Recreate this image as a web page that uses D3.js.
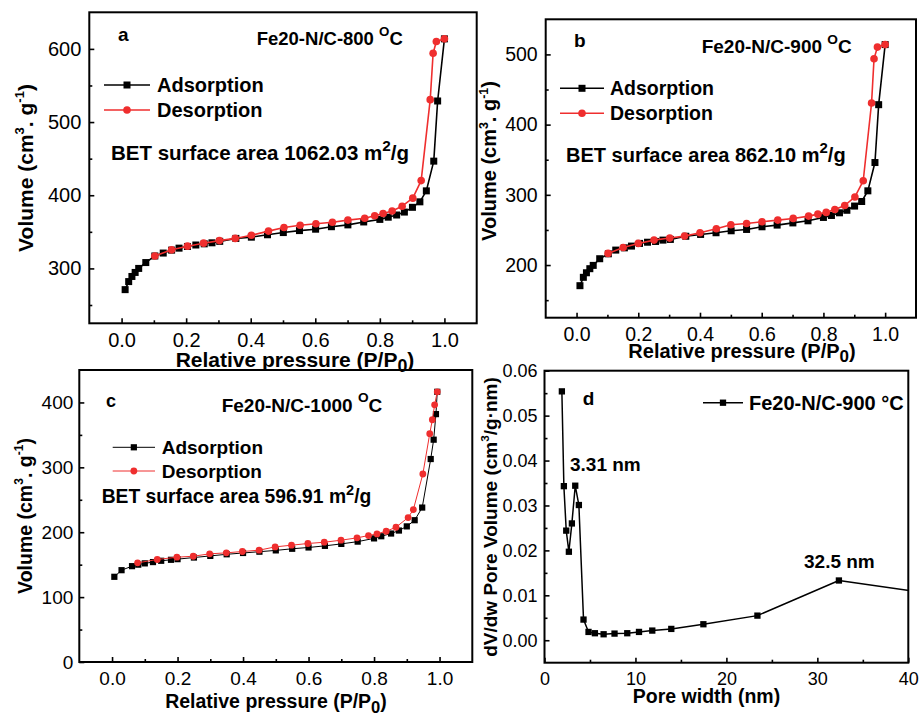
<!DOCTYPE html>
<html><head><meta charset="utf-8">
<script src="https://cdn.jsdelivr.net/npm/d3@7"></script>
<style>body{margin:0;background:#fff} svg{display:block}</style>
</head><body>
<script>
// ---------------- DATA ----------------
// Panel a: Fe20-N/C-800 °C
const aAdsP = [0.011,0.022,0.032,0.042,0.053,0.075,0.103,0.129,0.155,0.178,0.204,0.230,0.256,0.280,0.304,0.354,0.402,0.452,0.501,0.551,0.601,0.650,0.701,0.750,0.800,0.826,0.852,0.876,0.901,0.924,0.944,0.967,0.979,1.000];
const aAdsV = [271,282,289,294.5,300,308,317,321,325,327.7,330,332,333.6,335,337,341,342.7,346,349,351.7,353.6,357,359.5,363.5,367,370,373,377,383.5,391,406,446.6,528.8,613.7];
const aDesP = [1.000,0.975,0.965,0.956,0.928,0.902,0.869,0.838,0.810,0.784,0.753,0.701,0.653,0.602,0.553,0.503,0.455,0.402,0.352,0.303,0.254,0.204,0.155,0.103];
const aDesV = [613.7,610,594,530.6,420,396,385,378.5,375,372,368.5,366,363,361,359,356,351,345.4,341,338,334.5,330.4,325.4,317];

// Panel b: Fe20-N/C-900 °C
const bAdsP = [0.011,0.022,0.032,0.043,0.054,0.075,0.103,0.127,0.155,0.178,0.204,0.230,0.256,0.280,0.304,0.354,0.402,0.452,0.501,0.551,0.601,0.650,0.701,0.750,0.800,0.826,0.852,0.876,0.901,0.924,0.944,0.967,0.979,1.000];
const bAdsV = [170.6,182.5,189,194.8,199.5,209,216,221.3,224.5,227,230.8,232.5,233.6,235.5,236.5,241,243.6,246,248.8,250.7,254.5,256.9,260,263,267.8,270.6,274.4,278,284,290.5,305.7,346,428.4,514];
const bDesP = [1.000,0.975,0.964,0.956,0.929,0.902,0.869,0.837,0.809,0.782,0.752,0.702,0.652,0.601,0.551,0.500,0.453,0.400,0.350,0.302,0.251,0.200,0.151,0.102];
const bDesV = [514,510.4,493.8,430.8,320,297,284.8,279,275,272.5,269.7,266.4,264,261.6,259.2,257.3,251.7,246,241.2,238.4,235.5,230.8,225,216.6];

// Panel c: Fe20-N/C-1000 °C
const cAdsP = [0.007,0.029,0.061,0.080,0.100,0.125,0.150,0.180,0.200,0.250,0.300,0.350,0.400,0.450,0.500,0.550,0.600,0.650,0.700,0.750,0.800,0.822,0.852,0.876,0.900,0.924,0.947,0.973,0.982,0.989,0.993];
const cAdsV = [131.3,141.5,147.7,150,152,154,156,157.5,158.5,161,163.5,166,168,170,172,174.5,176.5,179,182,185.5,190.5,193.8,198,202.6,209,218.5,238,312.8,342.6,382,416.4];
const cDesP = [0.993,0.985,0.978,0.970,0.949,0.920,0.904,0.867,0.837,0.809,0.783,0.748,0.699,0.648,0.598,0.548,0.498,0.449,0.398,0.349,0.298,0.248,0.198,0.138,0.078];
const cDesV = [416.4,396.4,373.3,351.8,289.7,234.9,222.6,207.7,201.5,197.4,194.9,191.3,187.7,184.6,182.6,180,177.4,172.3,170.3,168.2,166.7,163,161.5,158,152.8];

// Panel d: pore size distribution, Fe20-N/C-900 °C
const dWidth = [1.91,2.13,2.39,2.68,3.01,3.38,3.78,4.29,4.84,5.54,6.5,7.7,9.1,10.39,11.85,13.94,17.47,23.41,32.37,44.5];
const dVol   = [0.0554,0.0343,0.0244,0.0197,0.0260,0.0344,0.0301,0.0046,0.00185,0.00156,0.00133,0.00148,0.00156,0.00185,0.00215,0.00252,0.00356,0.00548,0.0133,0.0098];

// Tick values
const pressureTicks = [0,0.2,0.4,0.6,0.8,1.0];
const pressureMinor = [0.1,0.3,0.5,0.7,0.9];
const aVolTicks = [300,400,500,600], aVolMinor = [250,350,450,550];
const bVolTicks = [200,300,400,500], bVolMinor = [150,250,350,450];
const cVolTicks = [0,100,200,300,400], cVolMinor = [50,150,250,350];
const dWidthTicks = [0,10,20,30,40], dWidthMinor = [5,15,25,35];
const dVolTicks = [0,0.01,0.02,0.03,0.04,0.05,0.06], dVolMinor = [0.005,0.015,0.025,0.035,0.045,0.055];

// ---------------- DRAWING ----------------
const FONT = "'Liberation Sans', Arial, Helvetica, sans-serif";
const RED = '#ef2e2e';
const svg = d3.select('body').append('svg').attr('width', 921).attr('height', 716)
  .style('font-family', FONT);

function rich(sel, parts, fs) {
  // parts: strings or {t, sup} / {t, sub}
  let shift = 0;
  parts.forEach(p => {
    const o = typeof p === 'string' ? {t: p} : p;
    const ts = sel.append('tspan').text(o.t);
    let target = 0, size = fs;
    if (o.sup) { target = -fs * (o.raise || 0.42); size = fs * (o.scale || 0.62); }
    if (o.sub) { target = fs * 0.22; size = fs * 0.85; }
    ts.attr('dy', target - shift).attr('font-size', size);
    shift = target;
  });
  return sel;
}

function marker(g, type, cx, cy, size, color) {
  if (type === 'square') {
    g.append('rect').attr('x', cx - size / 2).attr('y', cy - size / 2)
      .attr('width', size).attr('height', size).attr('fill', color);
  } else {
    g.append('circle').attr('cx', cx).attr('cy', cy).attr('r', size / 2).attr('fill', color);
  }
}

function panel(cfg) {
  const x = d3.scaleLinear().domain(cfg.xDomain).range([cfg.left, cfg.right]);
  const y = d3.scaleLinear().domain(cfg.yDomain).range([cfg.bottom, cfg.top]);
  const g = svg.append('g');
  const clipId = 'clip-' + cfg.id;
  svg.append('clipPath').attr('id', clipId).append('rect')
    .attr('x', cfg.left).attr('y', cfg.top)
    .attr('width', cfg.right - cfg.left).attr('height', cfg.bottom - cfg.top);

  // series
  const plot = g.append('g').attr('clip-path', `url(#${clipId})`);
  cfg.series.forEach(s => {
    const pts = s.x.map((v, i) => [v, s.y[i]]);
    plot.append('path').datum(pts)
      .attr('d', d3.line().x(d => x(d[0])).y(d => y(d[1])))
      .attr('fill', 'none').attr('stroke', s.color).attr('stroke-width', cfg.lw)
      .attr('stroke-linejoin', 'round');
    pts.forEach(d => marker(plot, s.shape, x(d[0]), y(d[1]), s.shape === 'square' ? cfg.sq : cfg.cr, s.color));
  });

  // axes (inward ticks)
  const axStyle = a => {
    a.select('.domain').remove();
    a.selectAll('line').attr('stroke', '#000').attr('stroke-width', 1.6);
    a.selectAll('text').attr('font-family', FONT).attr('font-size', cfg.tickFs).attr('fill', '#000');
  };
  g.append('g').attr('transform', `translate(0,${cfg.bottom})`)
    .call(d3.axisBottom(x).tickValues(cfg.xTicks).tickSizeInner(-5).tickSizeOuter(0)
      .tickPadding(cfg.xPad).tickFormat(cfg.xFmt)).call(axStyle);
  g.append('g').attr('transform', `translate(0,${cfg.bottom})`)
    .call(d3.axisBottom(x).tickValues(cfg.xMinor).tickSizeInner(-3).tickSizeOuter(0).tickFormat('')).call(axStyle);
  g.append('g').attr('transform', `translate(${cfg.left},0)`)
    .call(d3.axisLeft(y).tickValues(cfg.yTicks).tickSizeInner(-5).tickSizeOuter(0)
      .tickPadding(cfg.yPad).tickFormat(cfg.yFmt)).call(axStyle);
  g.append('g').attr('transform', `translate(${cfg.left},0)`)
    .call(d3.axisLeft(y).tickValues(cfg.yMinor).tickSizeInner(-3).tickSizeOuter(0).tickFormat('')).call(axStyle);

  // frame
  g.append('rect').attr('x', cfg.left).attr('y', cfg.top)
    .attr('width', cfg.right - cfg.left).attr('height', cfg.bottom - cfg.top)
    .attr('fill', 'none').attr('stroke', '#000').attr('stroke-width', 2);

  // titles
  rich(g.append('text').attr('transform', `translate(${cfg.yTitle.x},${cfg.yTitle.y}) rotate(-90)`)
    .attr('text-anchor', 'middle').attr('font-weight', 'bold').attr('font-size', cfg.yTitle.fs),
    cfg.yTitle.parts, cfg.yTitle.fs);
  rich(g.append('text').attr('x', cfg.xTitle.x).attr('y', cfg.xTitle.y)
    .attr('text-anchor', 'middle').attr('font-weight', 'bold').attr('font-size', cfg.xTitle.fs),
    cfg.xTitle.parts, cfg.xTitle.fs);

  // free texts
  cfg.texts.forEach(t => {
    rich(g.append('text').attr('x', t.x).attr('y', t.y).attr('font-weight', 'bold')
      .attr('font-size', t.fs), t.parts, t.fs);
  });

  // legend
  cfg.legend.forEach(l => {
    g.append('line').attr('x1', l.x0).attr('x2', l.x1).attr('y1', l.y).attr('y2', l.y)
      .attr('stroke', l.color).attr('stroke-width', cfg.lw);
    marker(g, l.shape, (l.x0 + l.x1) / 2, l.y, l.shape === 'square' ? cfg.sq : cfg.cr, l.color);
    rich(g.append('text').attr('x', l.tx).attr('y', l.y + l.fs * 0.36).attr('font-weight', 'bold')
      .attr('font-size', l.fs), l.parts, l.fs);
  });
}

const pTitle = fs => ({parts: ['Relative pressure (P/P', {t: '0', sub: true}, ')'], fs});
const volTitle = ['Volume (cm', {t: '3', sup: true}, '. g', {t: '-1', sup: true}, ')'];
const fmt1 = d3.format('.1f');

// Panel a
panel({
  id: 'a', left: 89.3, right: 476.7, top: 12.3, bottom: 323.3,
  xDomain: [-0.1, 1.1], yDomain: [225, 650],
  xTicks: pressureTicks, xMinor: pressureMinor, yTicks: aVolTicks, yMinor: aVolMinor,
  xFmt: fmt1, yFmt: d3.format('d'),
  tickFs: 20, xPad: 10, yPad: 8, lw: 1.6, sq: 7, cr: 7.6,
  yTitle: {x: 33, y: 168, fs: 21, parts: volTitle},
  xTitle: Object.assign({x: 295, y: 367}, pTitle(21)),
  series: [
    {x: aAdsP, y: aAdsV, color: '#000', shape: 'square'},
    {x: aDesP, y: aDesV, color: RED, shape: 'circle'}
  ],
  texts: [
    {x: 118, y: 41, fs: 19, parts: ['a']},
    {x: 256.7, y: 45, fs: 18.5, parts: ['Fe20-N/C-800 ', {t: 'O', sup: true, raise: 0.5, scale: 0.72}, 'C']},
    {x: 111, y: 160, fs: 20.5, parts: ['BET surface area 1062.03 m', {t: '2', sup: true, scale: 0.75, raise: 0.45}, '/g']}
  ],
  legend: [
    {x0: 104, x1: 150, y: 85, tx: 157, fs: 20, color: '#000', shape: 'square', parts: ['Adsorption']},
    {x0: 104, x1: 150, y: 110, tx: 157, fs: 20, color: RED, shape: 'circle', parts: ['Desorption']}
  ]
});

// Panel b
panel({
  id: 'b', left: 545.7, right: 916, top: 19.3, bottom: 317.7,
  xDomain: [-0.1, 1.1], yDomain: [125, 550],
  xTicks: pressureTicks, xMinor: pressureMinor, yTicks: bVolTicks, yMinor: bVolMinor,
  xFmt: fmt1, yFmt: d3.format('d'),
  tickFs: 19.5, xPad: 9, yPad: 8, lw: 1.6, sq: 7, cr: 7.6,
  yTitle: {x: 496, y: 161, fs: 20, parts: volTitle},
  xTitle: Object.assign({x: 742, y: 358}, pTitle(20)),
  series: [
    {x: bAdsP, y: bAdsV, color: '#000', shape: 'square'},
    {x: bDesP, y: bDesV, color: RED, shape: 'circle'}
  ],
  texts: [
    {x: 574, y: 46.7, fs: 19, parts: ['b']},
    {x: 701.7, y: 53.3, fs: 19, parts: ['Fe20-N/C-900 ', {t: 'O', sup: true, raise: 0.5, scale: 0.72}, 'C']},
    {x: 566, y: 161.7, fs: 20, parts: ['BET surface area 862.10 m', {t: '2', sup: true, scale: 0.75, raise: 0.45}, '/g']}
  ],
  legend: [
    {x0: 560, x1: 604, y: 88.3, tx: 610, fs: 19.5, color: '#000', shape: 'square', parts: ['Adsorption']},
    {x0: 560, x1: 604, y: 113.3, tx: 610, fs: 19.5, color: RED, shape: 'circle', parts: ['Desorption']}
  ]
});

// Panel c
panel({
  id: 'c', left: 79.3, right: 472.3, top: 370, bottom: 662,
  xDomain: [-0.1, 1.1], yDomain: [0, 450],
  xTicks: pressureTicks, xMinor: pressureMinor, yTicks: cVolTicks, yMinor: cVolMinor,
  xFmt: fmt1, yFmt: d3.format('d'),
  tickFs: 19, xPad: 10, yPad: 6, lw: 1, sq: 6.2, cr: 6.8,
  yTitle: {x: 31.5, y: 516, fs: 19.5, parts: volTitle},
  xTitle: Object.assign({x: 276, y: 708.3}, pTitle(19.5)),
  series: [
    {x: cAdsP, y: cAdsV, color: '#000', shape: 'square'},
    {x: cDesP, y: cDesV, color: RED, shape: 'circle'}
  ],
  texts: [
    {x: 106, y: 406.7, fs: 18, parts: ['c']},
    {x: 221.7, y: 411.7, fs: 19, parts: ['Fe20-N/C-1000 ', {t: 'O', sup: true, raise: 0.5, scale: 0.72}, 'C']},
    {x: 101.7, y: 503.3, fs: 19.3, parts: ['BET surface area 596.91 m', {t: '2', sup: true, scale: 0.75, raise: 0.45}, '/g']}
  ],
  legend: [
    {x0: 112.7, x1: 155, y: 447.3, tx: 161.7, fs: 19, color: '#000', shape: 'square', parts: ['Adsorption']},
    {x0: 112.7, x1: 155, y: 471, tx: 161.7, fs: 19, color: RED, shape: 'circle', parts: ['Desorption']}
  ]
});

// Panel d
panel({
  id: 'd', left: 544.5, right: 908.3, top: 370.7, bottom: 662.7,
  xDomain: [0, 40], yDomain: [-0.005, 0.06],
  xTicks: dWidthTicks, xMinor: dWidthMinor, yTicks: dVolTicks, yMinor: dVolMinor,
  xFmt: d3.format('d'), yFmt: d3.format('.2f'),
  tickFs: 18, xPad: 10, yPad: 7, lw: 1.5, sq: 6.3, cr: 6.3,
  yTitle: {x: 497, y: 517, fs: 19, parts: ['dV/dw Pore Volume (cm', {t: '3', sup: true}, '/g\u00B7nm)']},
  xTitle: {x: 706.5, y: 702.5, fs: 19.5, parts: ['Pore width (nm)']},
  series: [
    {x: dWidth, y: dVol, color: '#000', shape: 'square'}
  ],
  texts: [
    {x: 582.7, y: 405, fs: 19, parts: ['d']},
    {x: 570, y: 471, fs: 19, parts: ['3.31 nm']},
    {x: 804, y: 568.3, fs: 19, parts: ['32.5 nm']}
  ],
  legend: [
    {x0: 703, x1: 743, y: 402.7, tx: 749, fs: 20, color: '#000', shape: 'square', parts: ['Fe20-N/C-900 \u00B0C']}
  ]
});
</script>
</body></html>
